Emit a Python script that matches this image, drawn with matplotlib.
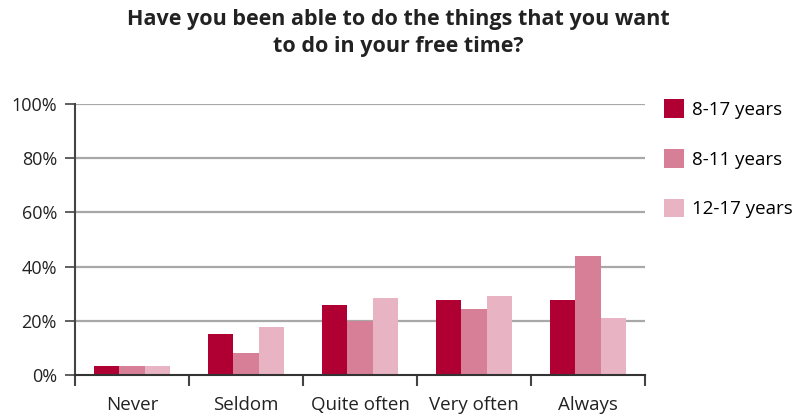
import matplotlib
matplotlib.use("Agg")
import matplotlib.pyplot as plt
import numpy as np

categories = ["Never", "Seldom", "Quite often", "Very often", "Always"]
series_names = ["8-17 years", "8-11 years", "12-17 years"]
values_8_17 = [3.3, 15.1, 25.8, 27.7, 27.7]
values_8_11 = [3.3, 8.1, 20.0, 24.4, 43.9]
values_12_17 = [3.3, 17.7, 28.4, 29.2, 21.0]
y_ticks = [0, 20, 40, 60, 80, 100]
y_tick_labels = ["0%", "20%", "40%", "60%", "80%", "100%"]

colors = ["#B00033", "#D87F98", "#E8B4C3"]

plt.rcParams["font.family"] = ["Open Sans", "DejaVu Sans"]

fig = plt.figure(figsize=(7.96, 4.16), dpi=100)
ax = fig.add_axes([75 / 796, 41 / 416, 570 / 796, 271 / 416])

x = np.arange(len(categories))
w = 0.22
handles = []
for i, (vals, name, c) in enumerate(zip([values_8_17, values_8_11, values_12_17], series_names, colors)):
    b = ax.bar(x + (i - 1) * w, vals, width=w, color=c, label=name, zorder=3)
    handles.append(b)

ax.set_xlim(-0.5, len(categories) - 0.5)
ax.set_ylim(0, 100)

# gridlines
for yt in y_ticks[1:]:
    ax.axhline(yt, color="#a8a8a8", lw=1.6, zorder=1)

ax.set_yticks(y_ticks)
ax.set_yticklabels(y_tick_labels, fontsize=13, color="#222222")
ax.tick_params(axis="y", direction="out", length=7, width=1.2, color="#444444", pad=6)

# category boundaries as ticks, labels centered
ax.set_xticks(np.arange(len(categories) + 1) - 0.5)
ax.set_xticklabels([""] * (len(categories) + 1))
ax.tick_params(axis="x", direction="out", length=8, width=1.5, color="#444444")
ax.set_xticks(x, minor=True)
ax.set_xticklabels(categories, minor=True, fontsize=13.5, color="#222222")
ax.tick_params(axis="x", which="minor", length=0, pad=15)

for s in ["top", "right"]:
    ax.spines[s].set_visible(False)
ax.spines["left"].set_color("#444444")
ax.spines["left"].set_linewidth(1.5)
ax.spines["bottom"].set_color("#333333")
ax.spines["bottom"].set_linewidth(1.5)
ax.spines["bottom"].set_zorder(4)

fig.text(0.5, 1 - 9 / 416, "Have you been able to do the things that you want\nto do in your free time?",
         ha="center", va="top", fontsize=15.5, fontweight="bold", color="#222222", linespacing=1.4)

leg = fig.legend(handles=handles, labels=series_names, loc="upper left",
                 bbox_to_anchor=(664 / 796, 1 - 99 / 416), frameon=False, fontsize=13.5,
                 handlelength=1.07, handleheight=1.17, labelspacing=1.6, handletextpad=0.43,
                 borderaxespad=0, borderpad=0)

fig.savefig("out.png", dpi=100)
